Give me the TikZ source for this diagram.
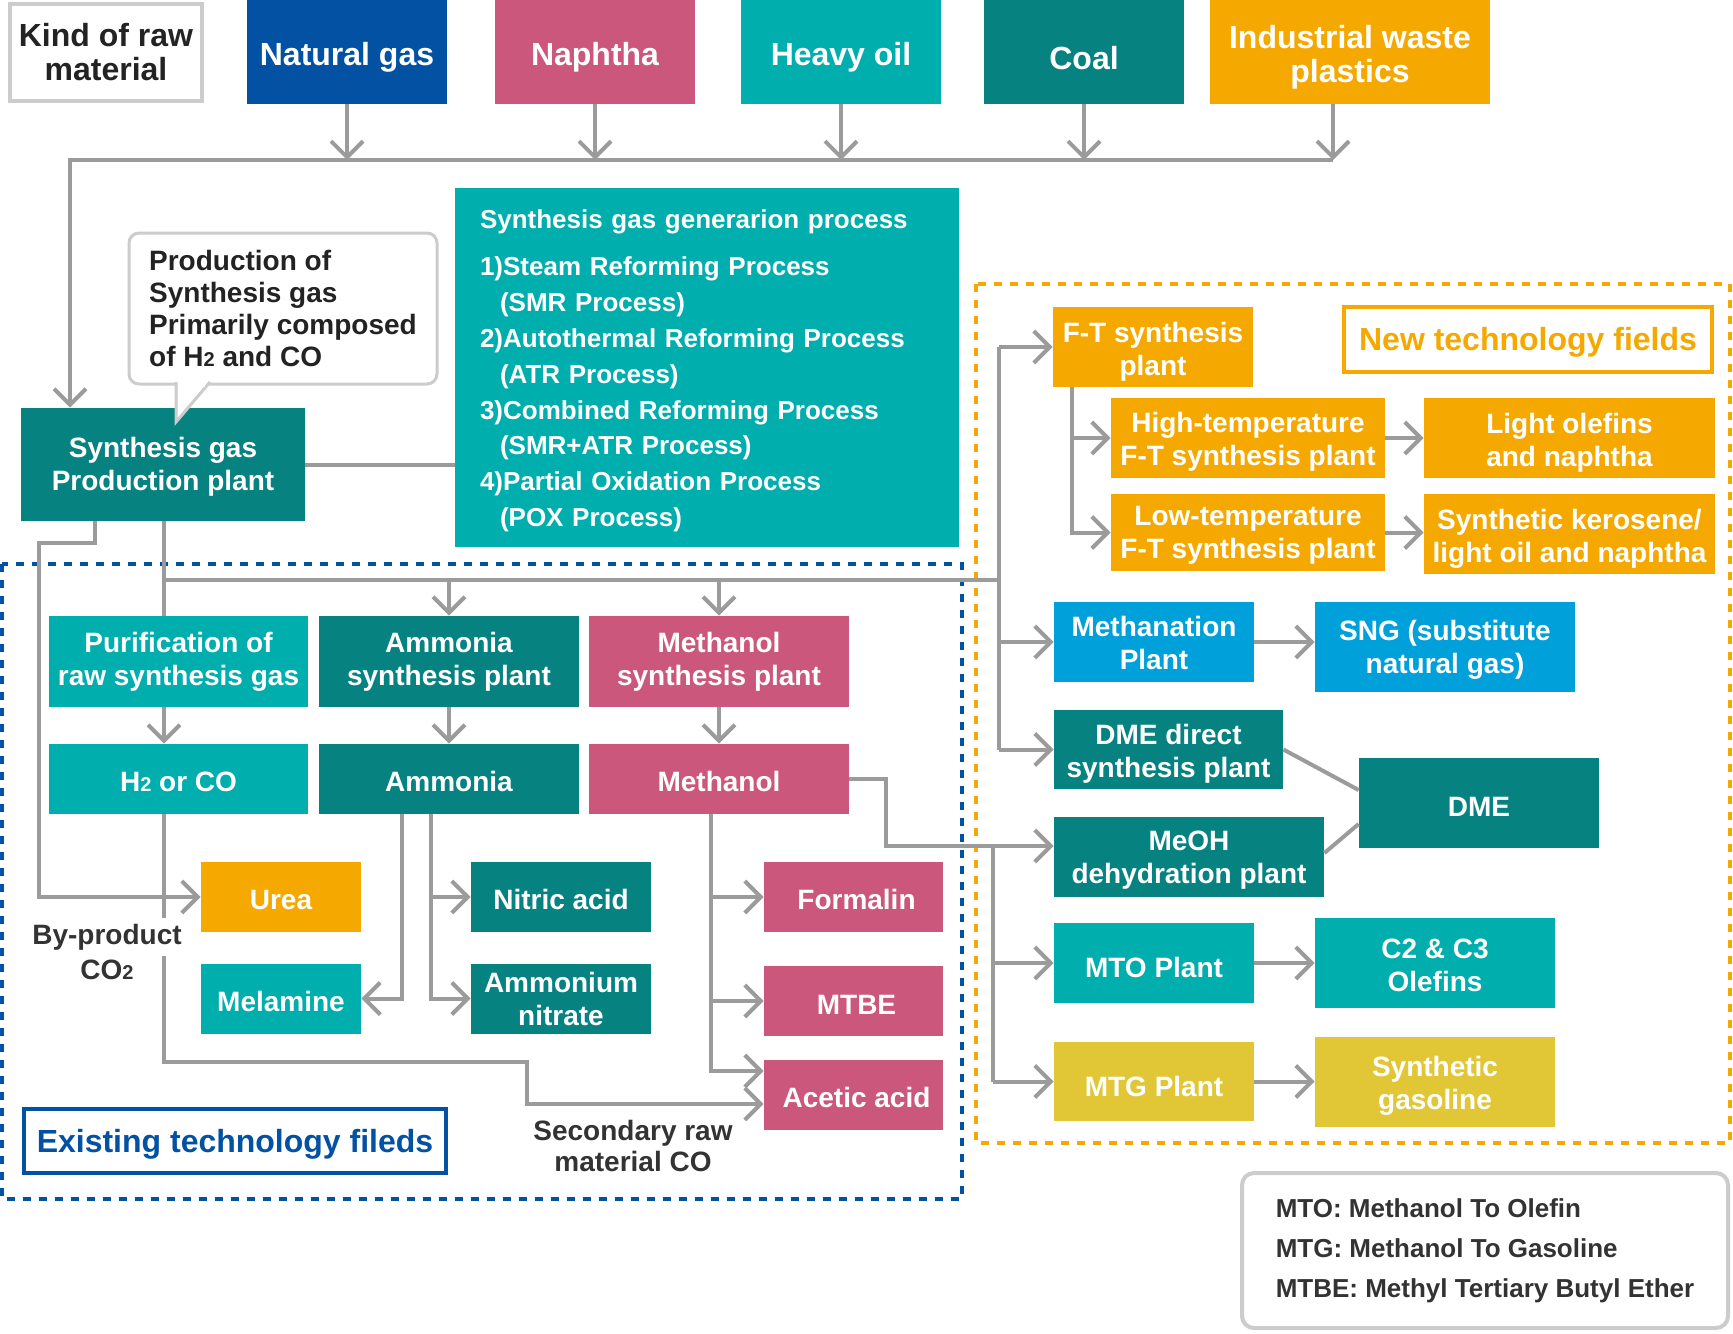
\documentclass[tikz,border=0pt]{standalone}
\usepackage{fontspec}
\setmainfont{Liberation Sans}
\usetikzlibrary{arrows.meta}

\definecolor{navy}{RGB}{2,81,162}
\definecolor{rose}{RGB}{203,87,124}
\definecolor{aqua}{RGB}{0,174,173}
\definecolor{deepteal}{RGB}{6,131,129}
\definecolor{amber}{RGB}{245,169,0}
\definecolor{sky}{RGB}{0,160,219}
\definecolor{mustard}{RGB}{225,199,54}
\definecolor{wire}{RGB}{155,155,155}
\definecolor{frame}{RGB}{204,204,204}
\definecolor{ink}{RGB}{51,51,51}
\definecolor{darkink}{RGB}{35,35,35}

\newcommand{\rawfont}{\fontsize{16pt}{17pt}\selectfont\bfseries}
\newcommand{\plantfont}{\fontsize{14pt}{16.5pt}\selectfont\bfseries}
\newcommand{\calloutfont}{\fontsize{14pt}{16pt}\selectfont\bfseries}
\newcommand{\procfont}{\fontsize{13pt}{17.9pt}\selectfont\bfseries}
\newcommand{\legendfont}{\fontsize{13pt}{20pt}\selectfont\bfseries}
\newcommand{\smalltwo}{{\fontsize{10pt}{10pt}\selectfont 2}}
\newcommand{\lift}[1]{\rule{0pt}{#1}}

\tikzset{
plant/.style={rectangle,inner sep=0pt,align=center,text=white,font=\plantfont,
  execute at begin node={\rule{0pt}{13pt}}},
rawbox/.style={plant,font=\rawfont,minimum width=100pt,minimum height=52pt,
  execute at begin node={\rule{0pt}{17.2pt}}},
fieldbox/.style={rectangle,line width=2pt,fill=white,font=\rawfont,
  execute at begin node={\rule{0pt}{14.5pt}}},
wireline/.style={draw=wire,line width=2pt},
arr/.style={wireline,-{Straight Barb[length=8pt,width=16pt]}},
note/.style={text=ink,font=\plantfont,align=center,inner sep=1pt},
}

\begin{document}
\begin{tikzpicture}[x=0.5pt,y=-0.5pt]
\useasboundingbox (0,0) rectangle (1733,1333);

\draw[navy,line width=2pt,dash pattern=on 4pt off 4pt] (2,564) rectangle (962,1199);
\draw[amber,line width=2pt,dash pattern=on 4pt off 4pt] (976,284) rectangle (1730,1143);

\node[rectangle,draw=frame,line width=2pt,fill=white,
minimum width=96pt,minimum height=48.5pt,inner sep=0pt,
align=center,font=\rawfont,text=darkink](kind) at (106,52.5){Kind of raw\\material};
\node[rawbox,fill=navy](natgas) at (347,52){Natural gas};
\node[rawbox,fill=rose](naphtha) at (595,52){Naphtha};
\node[rawbox,fill=aqua](heavyoil) at (841,52){Heavy oil};
\node[rawbox,fill=deepteal](coal) at (1084,52){Coal};
\node[rawbox,fill=amber,minimum width=140pt](waste) at (1350,52){\lift{17.2pt}Industrial waste\\plastics};

\coordinate (busL) at (70,160);
\coordinate (busR) at (1333,160);

\node[plant,fill=deepteal,minimum width=142pt,minimum height=56.5pt](synplant) at (163,464.5){\lift{11.9pt}Synthesis gas\\Production plant};

\node[rectangle,rounded corners=5pt,draw=frame,line width=1.5pt,fill=white,
minimum width=154pt,minimum height=75.5pt,inner sep=0pt,
align=left,font=\calloutfont,text=darkink](callout) at (283,308.5){Production of\\Synthesis gas\\Primarily composed\\of H\smalltwo{} and CO};

\node[rectangle,fill=aqua,text=white,font=\procfont,align=left,
text width=227pt,inner xsep=12.5pt,inner ysep=0pt,
minimum height=179.5pt](process) at (707,367.5){\lift{12.8pt}Synthesis gas generarion process\\[5.6pt]
1)Steam Reforming Process\\ \hspace*{10pt}(SMR Process)\\
2)Autothermal Reforming Process\\ \hspace*{10pt}(ATR Process)\\
3)Combined Reforming Process\\ \hspace*{10pt}(SMR+ATR Process)\\
4)Partial Oxidation Process\\ \hspace*{10pt}(POX Process)};

\node[plant,fill=aqua,minimum width=129.5pt,minimum height=45.5pt](purif) at (178.5,661.5){\lift{10.7pt}Purification of\\raw synthesis gas};
\node[plant,fill=deepteal,minimum width=130pt,minimum height=45.5pt](ammsyn) at (449,661.5){\lift{10.7pt}Ammonia\\synthesis plant};
\node[plant,fill=rose,minimum width=130pt,minimum height=45.5pt](methsyn) at (719,661.5){\lift{10.7pt}Methanol\\synthesis plant};

\node[plant,fill=aqua,minimum width=129.5pt,minimum height=35pt](h2co) at (178.5,779){H\smalltwo{} or CO};
\node[plant,fill=deepteal,minimum width=130pt,minimum height=35pt](ammonia) at (449,779){Ammonia};
\node[plant,fill=rose,minimum width=130pt,minimum height=35pt](methanol) at (719,779){Methanol};

\node[plant,fill=amber,minimum width=80pt,minimum height=35pt](urea) at (281,897){Urea};
\node[plant,fill=aqua,minimum width=80pt,minimum height=35pt](melamine) at (281,998.5){Melamine};
\node[plant,fill=deepteal,minimum width=90pt,minimum height=35pt](nitric) at (561,897){Nitric acid};
\node[plant,fill=deepteal,minimum width=90pt,minimum height=35pt](ammnitrate) at (561,998.5){Ammonium\\nitrate};
\node[plant,fill=rose,minimum width=89.5pt,minimum height=35pt](formalin) at (853.5,897){\hspace*{3pt}Formalin};
\node[plant,fill=rose,minimum width=89.5pt,minimum height=35pt](mtbe) at (853.5,1001){\hspace*{3pt}MTBE};
\node[plant,fill=rose,minimum width=89.5pt,minimum height=35pt](acetic) at (853.5,1094.5){\hspace*{3pt}Acetic acid};

\node[fieldbox,draw=navy,text=navy,
minimum width=211pt,minimum height=32pt](existing) at (235,1141){Existing technology fileds};

\node[plant,fill=amber,minimum width=100pt,minimum height=40pt](ft) at (1153,347){\lift{14.6pt}F-T synthesis\\plant};
\node[fieldbox,draw=amber,text=amber,
minimum width=184pt,minimum height=32.5pt](newtech) at (1528,339.5){New technology fields};
\node[plant,fill=amber,minimum width=137pt,minimum height=40pt](hightemp) at (1248,438){\lift{14.2pt}High-temperature\\F-T synthesis plant};
\node[plant,fill=amber,minimum width=145.5pt,minimum height=40pt](lightol) at (1569.5,438){\lift{14.8pt}Light olefins\\and naphtha};
\node[plant,fill=amber,minimum width=137pt,minimum height=38.5pt](lowtemp) at (1248,532.5){\lift{11.9pt}Low-temperature\\F-T synthesis plant};
\node[plant,fill=amber,minimum width=145.5pt,minimum height=40pt](kerosene) at (1569.5,534){\lift{14.8pt}Synthetic kerosene/\\light oil and naphtha};

\node[plant,fill=sky,minimum width=100pt,minimum height=40pt](methanation) at (1154,642){\lift{10.8pt}Methanation\\Plant};
\node[plant,fill=sky,minimum width=130pt,minimum height=45pt](sng) at (1445,647){\lift{13pt}SNG (substitute\\natural gas)};
\node[plant,fill=deepteal,minimum width=114.5pt,minimum height=39.5pt](dmedirect) at (1168.5,749.5){\lift{14.2pt}DME direct\\synthesis plant};
\node[plant,fill=deepteal,minimum width=120pt,minimum height=45pt](dme) at (1479,803){DME};
\node[plant,fill=deepteal,minimum width=135pt,minimum height=40pt](meoh) at (1189,857){\lift{13pt}MeOH\\dehydration plant};
\node[plant,fill=aqua,minimum width=100pt,minimum height=40pt](mto) at (1154,963){\lift{15pt}MTO Plant};
\node[plant,fill=aqua,minimum width=120pt,minimum height=45pt](c2c3) at (1435,963){\lift{11.9pt}C2 \& C3\\Olefins};
\node[plant,fill=mustard,minimum width=100pt,minimum height=39.5pt](mtg) at (1154,1081.5){\lift{15pt}MTG Plant};
\node[plant,fill=mustard,minimum width=120pt,minimum height=45pt](synthgas) at (1435,1082){\lift{14.2pt}Synthetic\\gasoline};

\node[rectangle,rounded corners=6pt,draw=frame,line width=2pt,fill=white,
text=ink,font=\legendfont,align=left,
minimum width=243pt,minimum height=77.5pt](legend) at (1485,1250.5){MTO: Methanol To Olefin\\MTG: Methanol To Gasoline\\MTBE: Methyl Tertiary Butyl Ether};

\draw[arr] (natgas.south) -- (natgas.south |- busL);
\draw[arr] (naphtha.south) -- (naphtha.south |- busL);
\draw[arr] (heavyoil.south) -- (heavyoil.south |- busL);
\draw[arr] (coal.south) -- (coal.south |- busL);
\draw[arr] (waste.south -| busR) -- (busR);
\draw[arr] (busR) -- (busL) -- (synplant.north -| busL);

\draw[draw=frame,line width=1.5pt,fill=white] (176,382) -- (176,422) -- (210,382);
\fill[white] (177.6,380) rectangle (205,386.5);

\draw[wireline] (synplant.east) -- (synplant.east -| process.west);

\coordinate (co2drop) at (95,543);
\coordinate (co2turn) at (39,543);
\draw[arr] (synplant.south -| co2drop) |- (co2turn) |- (urea.west);

\coordinate (split) at (164,580);
\coordinate (splitR) at (999,580);
\draw[wireline] (synplant.south -| split) -- (purif.north -| split);
\draw[wireline] (split) -- (splitR);
\draw[arr] (ammsyn.north |- split) -- (ammsyn.north);
\draw[arr] (methsyn.north |- split) -- (methsyn.north);
\draw[wireline] (ft.west -| splitR) -- (dmedirect.west -| splitR);
\draw[arr] (ft.west -| splitR) -- (ft.west);
\draw[arr] (methanation.west -| splitR) -- (methanation.west);
\draw[arr] (dmedirect.west -| splitR) -- (dmedirect.west);

\draw[arr] (purif.south -| split) -- (h2co.north -| split);
\draw[arr] (ammsyn.south) -- (ammonia.north);
\draw[arr] (methsyn.south) -- (methanol.north);

\coordinate (h2turn) at (527,1062);
\draw[arr] (h2co.south -| split) |- (h2turn) |- ([yshift=-4.75pt]acetic.west);

\draw[arr] ([xshift=-23.5pt]ammonia.south) |- (melamine.east);
\draw[arr] ([xshift=-9pt]ammonia.south) |- (ammnitrate.west);
\draw[arr] ([xshift=-9pt]ammonia.south |- nitric.west) -- (nitric.west);

\draw[arr] ([xshift=-4pt]methanol.south) |- ([yshift=11.75pt]acetic.west);
\draw[arr] ([xshift=-4pt]methanol.south |- formalin.west) -- (formalin.west);
\draw[arr] ([xshift=-4pt]methanol.south |- mtbe.west) -- (mtbe.west);

\coordinate (mjog) at (886,846);
\draw[arr] (methanol.east) -| (mjog) -- (mjog -| meoh.west);
\coordinate (mbranch) at (993,846);
\draw[wireline] (mbranch) -- (mbranch |- mtg.west);
\draw[arr] (mbranch |- mto.west) -- (mto.west);
\draw[arr] (mbranch |- mtg.west) -- (mtg.west);

\draw[arr] ([xshift=-40.5pt]ft.south) |- (lowtemp.west);
\draw[arr] ([xshift=-40.5pt]ft.south |- hightemp.west) -- (hightemp.west);
\draw[arr] (hightemp.east) -- (lightol.west);
\draw[arr] (lowtemp.east) -- (lowtemp.east -| kerosene.west);
\draw[arr] (methanation.east) -- (methanation.east -| sng.west);
\draw[arr] (mto.east) -- (mto.east -| c2c3.west);
\draw[arr] (mtg.east) -- (mtg.east -| synthgas.west);

\draw[wireline] (dmedirect.east) -- ([yshift=6.5pt]dme.west);
\draw[wireline] ([yshift=2pt]meoh.east) -- ([yshift=-10.5pt]dme.west);

\node[note,fill=white,inner ysep=3pt](byprod) at (107,937){By-product};
\node[note](co2) at (107,970){CO\smalltwo};
\node[note,font=\fontsize{14pt}{15.5pt}\selectfont\bfseries](secondary) at (633,1146){Secondary raw\\material CO};
\end{tikzpicture}
\end{document}
